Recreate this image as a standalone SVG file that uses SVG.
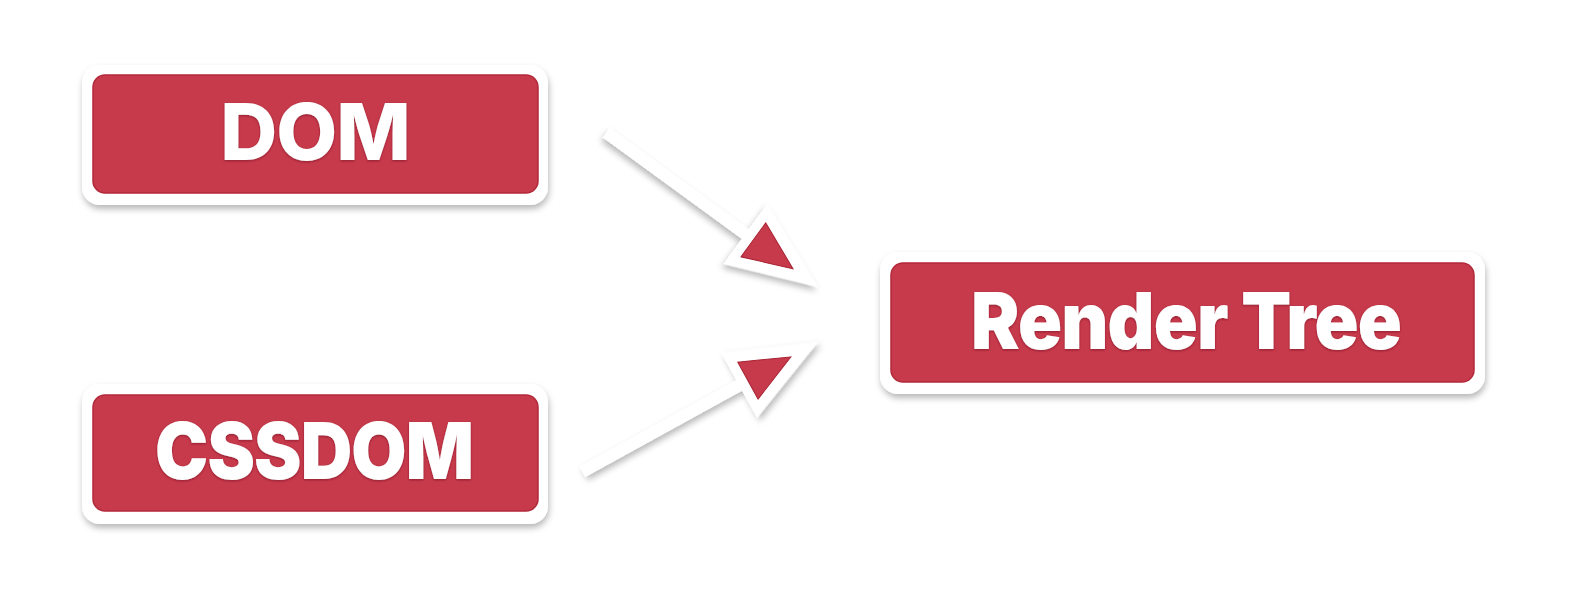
<svg xmlns="http://www.w3.org/2000/svg" width="1588" height="614" viewBox="0 0 1588 614">
<style>
.outer{fill:#ffffff}
.inner{fill:#C63A4B;stroke:#B22A3A;stroke-width:1.5}
.lbl{font-family:Inter,"Open Sans","Liberation Sans",sans-serif;font-weight:800;font-size:79px;letter-spacing:-1px;fill:#ffffff;text-anchor:middle}
.fit{font-weight:900}
.ashape{fill:#ffffff}
.ahead{fill:#C63A4B;stroke:#A82232;stroke-width:1}
</style>
<defs>
<filter id="sh" x="-20%" y="-30%" width="140%" height="170%">
<feDropShadow dx="1" dy="4" stdDeviation="3" flood-color="#000" flood-opacity="0.28"/>
</filter>
<filter id="tsh" x="-10%" y="-20%" width="120%" height="140%">
<feDropShadow dx="0" dy="1" stdDeviation="0.8" flood-color="#7a1020" flood-opacity="0.7"/>
</filter>
</defs>
<rect width="1588" height="614" fill="#ffffff"/>
<g id="connectors">
<g transform="translate(818,287) rotate(36.1)">
<path class="ashape" filter="url(#sh)" d="M0,0 L-90,-37 L-90,-6 L-262,-6 L-262,6 L-90,6 L-90,37 Z"/>
<path class="ahead" d="M-31,0 L-80,-21 L-80,21 Z"/>
</g>
<g transform="translate(818,342) rotate(-28.85)">
<path class="ashape" filter="url(#sh)" d="M0,0 L-90,-37 L-90,-6 L-269,-6 L-269,6 L-90,6 L-90,37 Z"/>
<path class="ahead" d="M-31,0 L-80,-21 L-80,21 Z"/>
</g>
</g>
<g id="node-dom">
<rect class="outer" filter="url(#sh)" x="82" y="65" width="466" height="140" rx="18"/>
<rect class="inner" x="93" y="75" width="445" height="118" rx="12"/>
<text class="lbl" filter="url(#tsh)" x="315" y="160">DOM</text>
</g>
<g id="node-cssdom">
<rect class="outer" filter="url(#sh)" x="82" y="384" width="466" height="140" rx="18"/>
<rect class="inner" x="93" y="395" width="445" height="116" rx="12"/>
<text class="lbl fit" filter="url(#tsh)" x="314" y="479" textLength="318" lengthAdjust="spacingAndGlyphs">CSSDOM</text>
</g>
<g id="node-render-tree">
<rect class="outer" filter="url(#sh)" x="880" y="252" width="605" height="142" rx="18"/>
<rect class="inner" x="891" y="263" width="583" height="119" rx="12"/>
<text class="lbl fit" filter="url(#tsh)" x="1186" y="349" textLength="430" lengthAdjust="spacingAndGlyphs">Render Tree</text>
</g>
</svg>
